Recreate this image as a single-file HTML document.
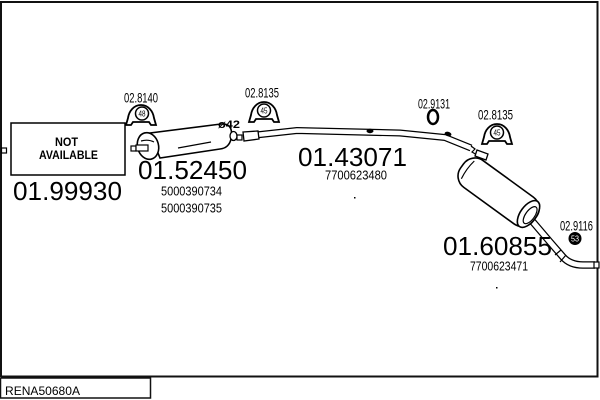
<!DOCTYPE html>
<html><head><meta charset="utf-8"><style>
html,body{margin:0;padding:0;background:#fff;}
svg{display:block;}
text{font-family:"Liberation Sans",sans-serif;fill:#000;}
</style></head><body>
<svg width="600" height="400" viewBox="0 0 600 400" xmlns="http://www.w3.org/2000/svg">
<rect x="0" y="0" width="600" height="400" fill="#fff"/>
<!-- frame -->
<path d="M1,377 L1,2 L597.5,2 L597.5,376.5 L1,376.5" fill="none" stroke="#111" stroke-width="2"/>
<!-- bottom label box -->
<rect x="0.5" y="378" width="150" height="20" fill="#fff" stroke="#111" stroke-width="1.5"/>
<text x="5" y="395" font-size="12" textLength="75" lengthAdjust="spacingAndGlyphs">RENA50680A</text>

<!-- left connector -->
<rect x="1.5" y="148" width="5" height="5" fill="#fff" stroke="#000" stroke-width="1.2"/>
<!-- NOT AVAILABLE box -->
<rect x="11" y="123" width="114" height="52" fill="#fff" stroke="#000" stroke-width="1.5"/>
<text x="55" y="146" font-size="12" font-weight="bold" textLength="23" lengthAdjust="spacingAndGlyphs">NOT</text>
<text x="39" y="159" font-size="12" font-weight="bold" textLength="59" lengthAdjust="spacingAndGlyphs">AVAILABLE</text>
<text x="13" y="200" font-size="26" textLength="109" lengthAdjust="spacingAndGlyphs">01.99930</text>

<!-- clamp 02.8140 -->
<text x="124" y="102.5" font-size="14" textLength="34" lengthAdjust="spacingAndGlyphs">02.8140</text>
<g transform="translate(141,115)">
<path d="M-15,10 L-10,10 L-8,7 L8,7 L10,10 L15,10 L13,3 C12,-4 7,-10 0,-10 C-7,-10 -12,-4 -13,3 Z" fill="#fff" stroke="#000" stroke-width="1.8"/>
<circle cx="1" cy="-1.5" r="6.5" fill="#fff" stroke="#000" stroke-width="1.5"/>
<text x="1" y="1.5" font-size="8" text-anchor="middle" textLength="7" lengthAdjust="spacingAndGlyphs">48</text>
</g>

<!-- first muffler -->
<rect x="131" y="146" width="5" height="5" fill="#fff" stroke="#000" stroke-width="1.2"/>
<path d="M150,133 L221,124 Q234,123 231,139 Q229,148 220,149 L160,158 Z" fill="#fff" stroke="#000" stroke-width="1.6"/>
<ellipse cx="148" cy="146" rx="10.5" ry="13.5" transform="rotate(-15 148 146)" fill="#fff" stroke="#000" stroke-width="1.6"/>
<path d="M141,141 Q148,139 154,142" fill="none" stroke="#000" stroke-width="1.2"/>
<rect x="136" y="145" width="12" height="6" fill="#fff" stroke="#000" stroke-width="1.2"/>
<line x1="178" y1="148" x2="211" y2="142" stroke="#000" stroke-width="1.2"/>
<text x="218" y="128" font-size="11" font-weight="bold" textLength="22" lengthAdjust="spacingAndGlyphs">ø42</text>
<ellipse cx="233.5" cy="136" rx="3.5" ry="4.5" fill="#fff" stroke="#000" stroke-width="1.3"/>
<text x="138" y="179" font-size="26" textLength="109" lengthAdjust="spacingAndGlyphs">01.52450</text>
<text x="161" y="195.5" font-size="13" textLength="61" lengthAdjust="spacingAndGlyphs">5000390734</text>
<text x="161" y="212.5" font-size="13" textLength="61" lengthAdjust="spacingAndGlyphs">5000390735</text>

<!-- clamp 02.8135 (1) -->
<text x="245" y="97.5" font-size="14" textLength="34" lengthAdjust="spacingAndGlyphs">02.8135</text>
<g transform="translate(264,112)">
<path d="M-15,10 L-10,10 L-8,7 L8,7 L10,10 L15,10 L13,3 C12,-4 7,-10 0,-10 C-7,-10 -12,-4 -13,3 Z" fill="#fff" stroke="#000" stroke-width="1.8"/>
<circle cx="0" cy="-1.5" r="6.5" fill="#fff" stroke="#000" stroke-width="1.5"/>
<text x="0" y="1.5" font-size="8" text-anchor="middle" textLength="7" lengthAdjust="spacingAndGlyphs">45</text>
</g>

<!-- middle pipe -->
<rect x="237" y="135" width="5" height="5" fill="#fff" stroke="#000" stroke-width="1.2"/>
<polyline points="256,135 297,130.5 400,133 445,137.5 471,148" fill="none" stroke="#000" stroke-width="7" stroke-linejoin="round"/>
<polyline points="256,135 297,130.5 400,133 445,137.5 471,148" fill="none" stroke="#fff" stroke-width="4.6" stroke-linejoin="round"/>
<polygon points="243,132 258,131 259,139 244,141" fill="#fff" stroke="#000" stroke-width="1.3"/>
<ellipse cx="370" cy="131" rx="3.5" ry="2.2" fill="#000"/>
<ellipse cx="448" cy="134" rx="3.5" ry="2.2" transform="rotate(15 448 134)" fill="#000"/>
<path d="M471,146 L475,149 L472,152 L477,155" fill="none" stroke="#000" stroke-width="1.2"/>
<polygon points="477,150 488,154 486,160 475,156" fill="#fff" stroke="#000" stroke-width="1.3"/>
<text x="298" y="166" font-size="26" textLength="109" lengthAdjust="spacingAndGlyphs">01.43071</text>
<text x="325" y="179.5" font-size="13" textLength="62" lengthAdjust="spacingAndGlyphs">7700623480</text>
<rect x="354" y="197" width="1.5" height="1.5" fill="#000"/>

<!-- ring 02.9131 -->
<text x="418" y="108.5" font-size="14" textLength="32" lengthAdjust="spacingAndGlyphs">02.9131</text>
<ellipse cx="433" cy="117" rx="5" ry="7" fill="none" stroke="#000" stroke-width="2.5"/>

<!-- clamp 02.8135 (2) -->
<text x="478" y="119.5" font-size="14" textLength="35" lengthAdjust="spacingAndGlyphs">02.8135</text>
<g transform="translate(497,134)">
<path d="M-15,10 L-10,10 L-8,7 L8,7 L10,10 L15,10 L13,3 C12,-4 7,-10 0,-10 C-7,-10 -12,-4 -13,3 Z" fill="#fff" stroke="#000" stroke-width="1.8"/>
<circle cx="0" cy="-1.5" r="6.5" fill="#fff" stroke="#000" stroke-width="1.5"/>
<text x="0" y="1.5" font-size="8" text-anchor="middle" textLength="7" lengthAdjust="spacingAndGlyphs">45</text>
</g>

<!-- tail pipe -->
<path d="M527,215 L550,242 L563,257 Q570,265 583,265 L595,265" fill="none" stroke="#000" stroke-width="7.5" stroke-linejoin="round"/>
<path d="M527,215 L550,242 L563,257 Q570,265 583,265 L595,265" fill="none" stroke="#fff" stroke-width="5" stroke-linejoin="round"/>
<rect x="594" y="262" width="5" height="6" fill="#fff" stroke="#000" stroke-width="1.2"/>
<path d="M555,255 L561,250 M560,262 L566,255" fill="none" stroke="#000" stroke-width="1.2"/>

<!-- rear muffler -->
<g transform="translate(501,194) rotate(36)">
<rect x="-48" y="-16.5" width="90" height="33" rx="14" fill="#fff" stroke="#000" stroke-width="1.6"/>
<path d="M-41,-11 Q-43,0 -41,11" fill="none" stroke="#000" stroke-width="1.2"/>
<ellipse cx="34" cy="0" rx="8" ry="15.5" fill="#fff" stroke="#000" stroke-width="1.6"/>
<ellipse cx="36" cy="0" rx="4.5" ry="10" fill="#fff" stroke="#000" stroke-width="1.2"/>
</g>

<!-- 02.9116 -->
<text x="560" y="230.5" font-size="14" textLength="33" lengthAdjust="spacingAndGlyphs">02.9116</text>
<circle cx="575" cy="238.5" r="6.5" fill="#000"/>
<text x="575" y="241.5" font-size="8" text-anchor="middle" style="fill:#fff" textLength="8" lengthAdjust="spacingAndGlyphs">53</text>

<text x="443" y="255" font-size="26" textLength="109" lengthAdjust="spacingAndGlyphs">01.60855</text>
<text x="470" y="270.5" font-size="13" textLength="58" lengthAdjust="spacingAndGlyphs">7700623471</text>
<rect x="496" y="287" width="1.5" height="1.5" fill="#000"/>
</svg>
</body></html>
